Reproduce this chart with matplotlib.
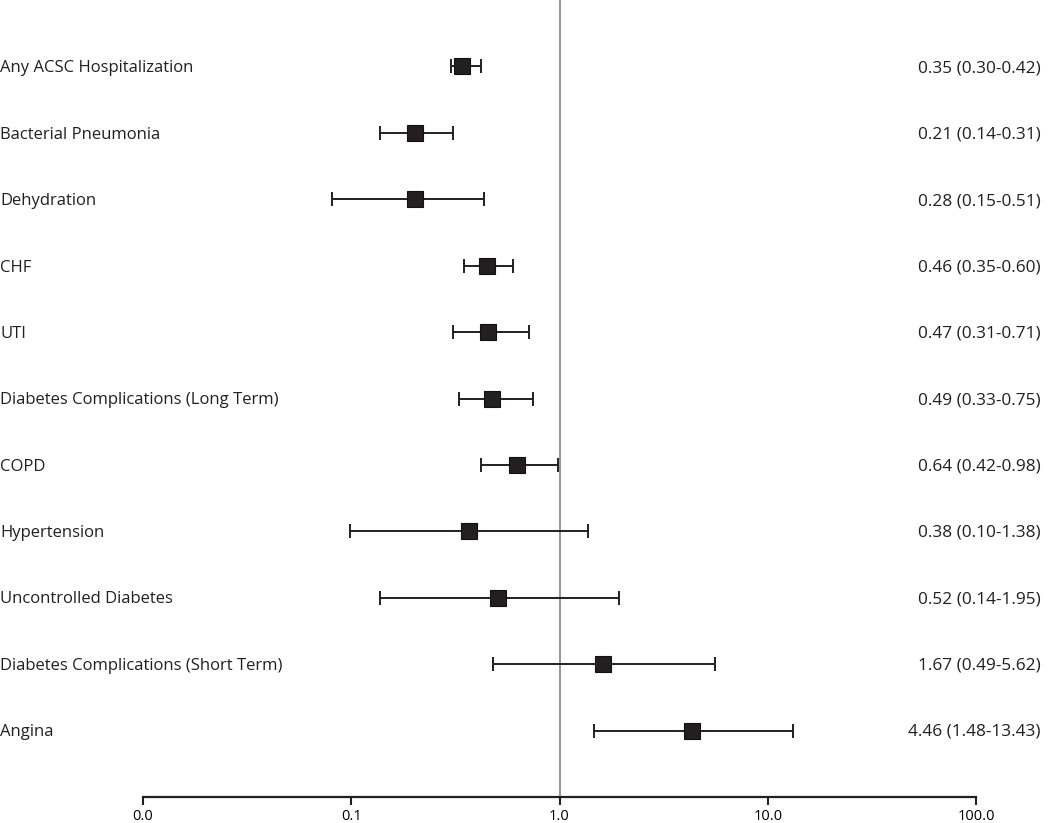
import matplotlib
matplotlib.use('Agg')
import matplotlib.pyplot as plt
import numpy as np

# rows, top to bottom
conditions = ['Any ACSC Hospitalization', 'Bacterial Pneumonia', 'Dehydration', 'CHF', 'UTI',
              'Diabetes Complications (Long Term)', 'COPD', 'Hypertension',
              'Uncontrolled Diabetes', 'Diabetes Complications (Short Term)', 'Angina']
# values as drawn in the figure
estimate = [0.339, 0.203, 0.203, 0.448, 0.456, 0.473, 0.627, 0.369, 0.506, 1.62, 4.33]
ci_low = [0.300, 0.138, 0.0805, 0.346, 0.307, 0.328, 0.421, 0.099, 0.138, 0.482, 1.47]
ci_high = [0.422, 0.307, 0.435, 0.600, 0.712, 0.750, 0.981, 1.363, 1.94, 5.61, 13.27]
# text printed on the right
or_text = ['0.35 (0.30-0.42)', '0.21 (0.14-0.31)', '0.28 (0.15-0.51)', '0.46 (0.35-0.60)',
           '0.47 (0.31-0.71)', '0.49 (0.33-0.75)', '0.64 (0.42-0.98)', '0.38 (0.10-1.38)',
           '0.52 (0.14-1.95)', '1.67 (0.49-5.62)', '4.46 (1.48-13.43)']
xticks = [0.01, 0.1, 1, 10, 100]
xtick_labels = ['0.0', '0.1', '1.0', '10.0', '100.0']

plt.rcParams['font.family'] = ['Open Sans', 'DejaVu Sans']

fig = plt.figure(figsize=(10.5, 8.23), dpi=100)
ax = fig.add_axes([143 / 1050, 1 - 797 / 823, (976 - 143) / 1050, 797 / 823])

n = len(conditions)
ypos = np.arange(n, 0, -1)
est = np.array(estimate)
lo = np.array(ci_low)
hi = np.array(ci_high)

ax.axvline(1, color='#9a9a9a', lw=1.5, zorder=1)
ax.errorbar(est, ypos, xerr=[est - lo, hi - est], fmt='none', ecolor='#231f20',
            elinewidth=1.4, capsize=5, capthick=1.4, zorder=2)
ax.plot(est, ypos, 's', color='#231f20', markersize=11, markeredgecolor='#111111',
        markeredgewidth=0.8, zorder=3)

ax.set_xscale('log')
ax.set_xlim(0.01, 100)
ax.set_ylim(0, 12)
ax.set_xticks(xticks)
ax.set_xticklabels(xtick_labels, fontsize=10.5)
ax.minorticks_off()
ax.tick_params(axis='x', direction='out', length=6, width=1.5, color='#231f20', pad=3)
ax.set_yticks([])
for s in ['left', 'top', 'right']:
    ax.spines[s].set_visible(False)
ax.spines['bottom'].set_linewidth(1.6)
ax.spines['bottom'].set_color('#231f20')

for i in range(n):
    yfig = 1 - (68.5 + 66.35 * i) / 823
    fig.text(0.0, yfig, conditions[i], ha='left', va='center', fontsize=12, color='#231f20')
    fig.text(1041 / 1050, yfig, or_text[i], ha='right', va='center', fontsize=12.4, color='#231f20')

fig.savefig('out.png', dpi=100)
